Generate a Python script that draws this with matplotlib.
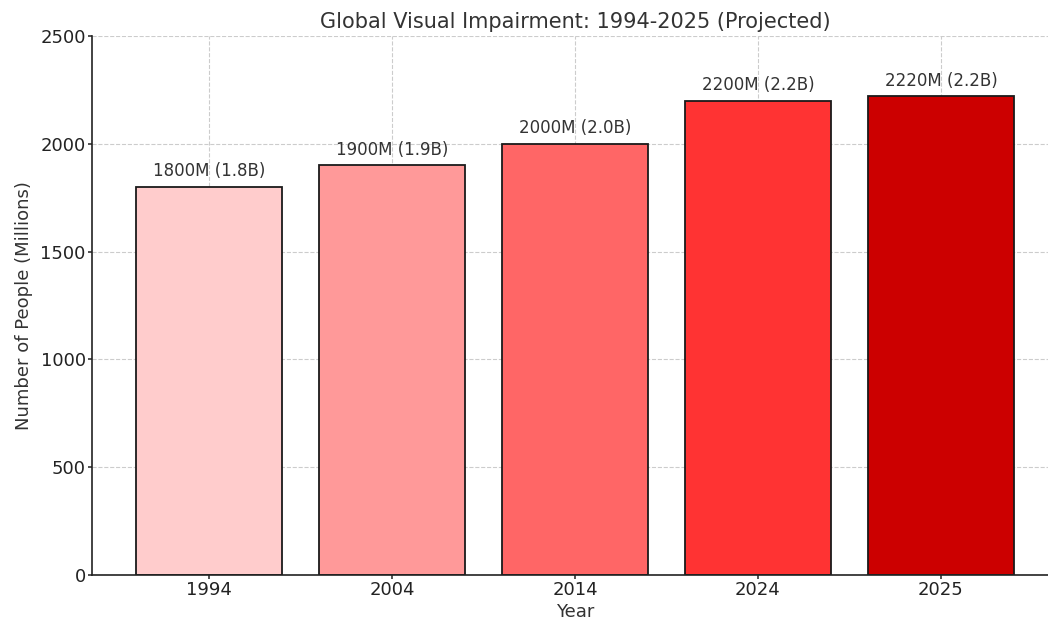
import matplotlib
matplotlib.use("Agg")
import matplotlib.pyplot as plt

years = ["1994", "2004", "2014", "2024", "2025"]
people_millions = [1800, 1900, 2000, 2200, 2220]
value_labels = ["1800M (1.8B)", "1900M (1.9B)", "2000M (2.0B)", "2200M (2.2B)", "2220M (2.2B)"]
bar_colors = ["#ffcccc", "#ff9999", "#ff6666", "#ff3333", "#cc0000"]

text_color = "#333333"

fig = plt.figure(figsize=(10.48, 6.21), dpi=100)
ax = fig.add_axes([92 / 1048, 1 - 575 / 621, (1058 - 92) / 1048, (575 - 36) / 621])

x = range(len(years))
bars = ax.bar(x, people_millions, width=0.8, color=bar_colors,
              edgecolor="#1a1a1a", linewidth=1.3, zorder=2)

for xi, v, lab in zip(x, people_millions, value_labels):
    ax.text(xi, v + 30, lab, ha="center", va="bottom", fontsize=12, color=text_color, zorder=3)

ax.set_xticks(list(x))
ax.set_xticklabels(years)
ax.set_ylim(0, 2500)
ax.set_yticks([0, 500, 1000, 1500, 2000, 2500])
ax.set_xlim(-0.64, 4.64)

ax.grid(True, linestyle="--", color="#cccccc", linewidth=0.8, zorder=0)
ax.set_axisbelow(True)

for side in ("top", "right"):
    ax.spines[side].set_visible(False)
for side in ("left", "bottom"):
    ax.spines[side].set_color("#222222")
    ax.spines[side].set_linewidth(1.2)

ax.tick_params(axis="both", labelsize=13, colors="#222222", length=3, width=1.1, pad=1.5)
ax.set_title("Global Visual Impairment: 1994-2025 (Projected)", fontsize=15, color=text_color, pad=6)
ax.set_xlabel("Year", fontsize=13, color=text_color, labelpad=3)
ax.set_ylabel("Number of People (Millions)", fontsize=13, color=text_color, labelpad=5)

fig.savefig("out.png", dpi=100)
